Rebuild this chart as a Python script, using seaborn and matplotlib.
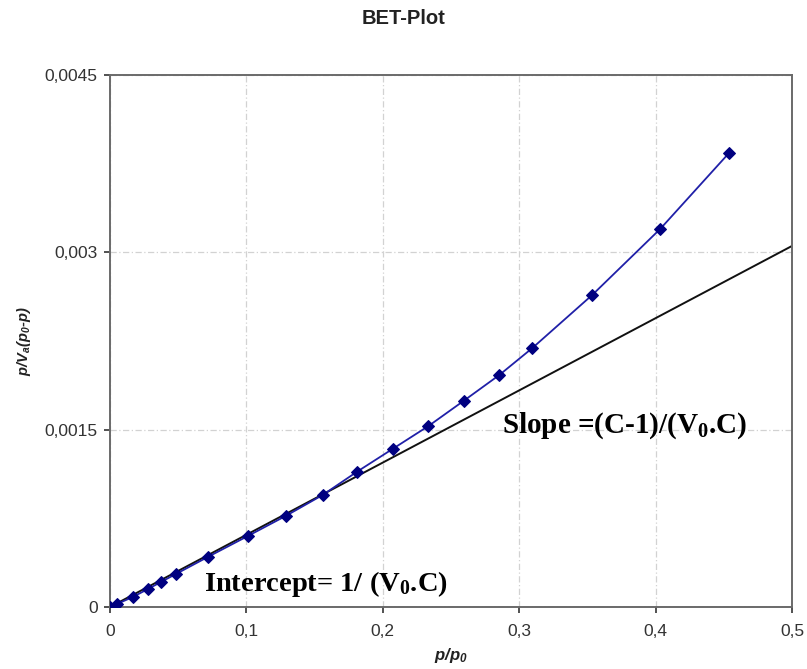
import matplotlib
matplotlib.use("Agg")
import matplotlib.pyplot as plt
import seaborn as sns
import pandas as pd

# ---- data ----
rel_pressure = [0.0, 0.005, 0.0168, 0.0278, 0.0373, 0.0483, 0.0717, 0.101,
                0.1288, 0.156, 0.1808, 0.2072, 0.2335, 0.2592, 0.2855,
                0.3097, 0.3536, 0.4034, 0.4539]
bet_values = [0.0, 0.000025, 0.000085, 0.000152, 0.000211, 0.000279,
              0.000423, 0.000600, 0.000770, 0.000948, 0.001142, 0.001337,
              0.001531, 0.001743, 0.001963, 0.002191, 0.002640, 0.003198,
              0.003841]
fit_x = [0.0, 0.5]
fit_y = [0.0, 0.003054]

xticks = [0.0, 0.1, 0.2, 0.3, 0.4, 0.5]
xtick_labels = ["0", "0,1", "0,2", "0,3", "0,4", "0,5"]
yticks = [0.0, 0.0015, 0.003, 0.0045]
ytick_labels = ["0", "0,0015", "0,003", "0,0045"]

title = "BET-Plot"
xlabel = "p/p$_\\mathsf{0}$"
ylabel = "p/V$_\\mathsf{a}$(p$_\\mathsf{0}$-p)"
intercept_text = "Intercept= 1/ (V$_0$.C)"
slope_text = "Slope =(C-1)/(V$_0$.C)"

# ---- style ----
sns.set_style("white")
plt.rcParams["font.family"] = ["Liberation Sans", "DejaVu Sans"]
plt.rcParams["mathtext.fontset"] = "custom"
plt.rcParams["mathtext.rm"] = "Liberation Serif:bold"
plt.rcParams["mathtext.sf"] = "Liberation Sans:bold:italic"
plt.rcParams["mathtext.it"] = "Liberation Serif:bold:italic"
plt.rcParams["mathtext.bf"] = "Liberation Serif:bold"

fig = plt.figure(figsize=(8.07, 6.69), dpi=100)
ax = fig.add_axes([110 / 807, 1 - 607 / 669, (792 - 110) / 807, (607 - 75) / 669])

df = pd.DataFrame({"x": rel_pressure, "y": bet_values})
fit_df = pd.DataFrame({"x": fit_x, "y": fit_y})

sns.lineplot(data=fit_df, x="x", y="y", ax=ax, color="#111111", linewidth=1.4, zorder=2)
sns.lineplot(data=df, x="x", y="y", ax=ax, color="#2020a8", linewidth=1.3,
             marker="D", markersize=6, markerfacecolor="#000080",
             markeredgecolor="#000080", zorder=3)

ax.set_xlim(0, 0.5)
ax.set_ylim(0, 0.0045)
ax.set_xticks(xticks)
ax.set_xticklabels(xtick_labels)
ax.set_yticks(yticks)
ax.set_yticklabels(ytick_labels)
ax.tick_params(axis="both", which="major", labelsize=12.5, colors="#333333",
               direction="out", length=4, width=1.2)
ax.tick_params(axis="x", pad=8, labelcolor="#333333")
ax.tick_params(axis="y", pad=5, labelcolor="#333333")
ax.xaxis.set_ticks_position("bottom")
ax.yaxis.set_ticks_position("left")

ax.grid(True, color="#d2d2d2", linewidth=0.9, linestyle=(0, (5, 2, 1, 2)))
for side, sp in ax.spines.items():
    sp.set_visible(True)
    sp.set_color("#6a6a6a")
    sp.set_linewidth(1.4)

ax.set_xlabel(xlabel, fontsize=12, fontweight="bold", fontstyle="italic",
              color="#222222", labelpad=5)
ax.set_ylabel(ylabel, fontsize=10.5, fontweight="bold", fontstyle="italic",
              color="#222222", labelpad=8)

fig.suptitle(title, x=0.5, y=1 - 18 / 669, va="center", fontsize=14.5,
             fontweight="bold", color="#222222")

ax.text(0.0688, 0.000135, intercept_text, fontsize=20.5, fontweight="bold",
        family="Liberation Serif", color="black", va="baseline", ha="left", zorder=4)
ax.text(0.2873, 0.001472, slope_text, fontsize=21, fontweight="bold",
        family="Liberation Serif", color="black", va="baseline", ha="left", zorder=4)

fig.savefig("out.png", dpi=100)
